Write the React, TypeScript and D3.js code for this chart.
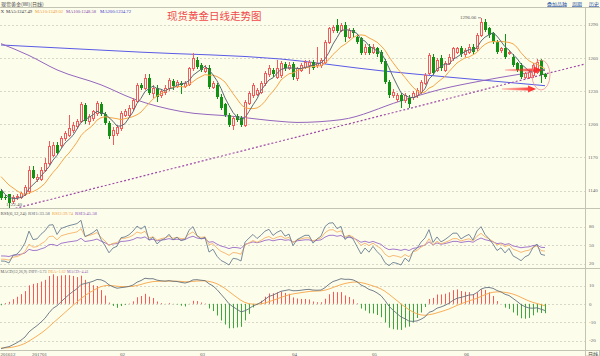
import React from 'react';
import * as d3 from 'd3';

// ---- Daily OHLC ----
const opens = [1139.4,1134,1136.4,1130.4,1133.7,1134,1136.4,1139.4,1158.9,1150.5,1150.8,1158.9,1164.9,1172.4,1181.4,1181.4,1187.4,1190.4,1194.9,1197.9,
1203,1217.4,1203,1205.4,1209.9,1218,1209,1200.9,1190.4,1191.9,1196.4,1208.4,1208.4,1214.4,1221,1235.4,1233,1242,1227.9,1233,
1226.4,1228.8,1232.4,1239,1234.8,1237.5,1234.8,1236,1250.4,1257.9,1253.4,1248,1251,1233.9,1235.4,1224.9,1218,1208.4,1199.4,1206.9,
1205.4,1199.4,1218.9,1226.4,1227,1229.4,1236.9,1245,1248.9,1242.9,1244.4,1254,1251,1254,1241.4,1248.9,1251.9,1253.4,1256.4,1253.4,
1253.4,1256.4,1274.4,1284.9,1290,1284.9,1289.4,1278.9,1284.9,1278.9,1277.4,1265.4,1269.9,1265.4,1268.4,1265.4,1257,1238.4,1226.4,1222.8,
1226.4,1221.9,1224,1224.9,1226.4,1229.4,1236.9,1245.9,1260.9,1248.9,1260,1248.9,1254.9,1259.4,1265.4,1268.4,1263,1265.4,1269.9,1268.4,
1280.4,1292.4,1286.4,1281.9,1274.4,1266.9,1268.4,1263.9,1260.9,1254.9,1253.4,1242.9,1242.9,1244.4,1247.4,1257.9,1245];
const highs = [1141,1136,1137,1136,1137,1139,1145,1162,1162,1155,1161,1169.4,1184.4,1184,1184,1189,1194,1207.8,1202,1205,
1220,1219,1209,1213,1221,1220,1211,1203,1197,1199,1212,1214,1217,1224,1237,1237,1245,1245,1235,1235,
1232,1235,1242,1241,1240,1239,1239,1252,1263.9,1261,1255,1253,1253,1239,1237,1227,1219,1210,1207,1209,
1207,1222,1230,1237,1233,1239,1248,1253,1251,1258,1257,1256,1256,1256,1252,1255,1258,1258,1258,1270,
1260,1276,1288,1290,1295.4,1291,1292,1287,1287,1281,1279,1272,1272,1272,1270,1267,1259,1240,1232,1228,
1228,1228,1226,1230,1233,1240,1246,1264,1263,1260,1262,1257,1263,1270,1270,1271,1269,1272,1272,1282,
1296.06,1295,1288,1283,1276,1270,1281,1267,1263,1256,1255,1247,1249,1255,1259,1259,1246];
const lows = [1131,1131,1122.4,1128,1131,1132,1135,1137,1150,1148,1149,1157,1163,1170,1172,1178,1185,1188,1192,1196,
1201,1200,1199,1203,1207,1207,1199,1186.8,1181.4,1189,1194,1206,1206,1212,1219,1231,1231,1226,1224,1220,
1224,1226,1230,1231,1233,1227,1233,1234,1248,1250,1247,1246,1232,1232,1223,1213,1206,1197,1194.9,1202,
1197,1197,1217,1224,1225,1227,1234,1243,1243,1241,1242,1248,1249,1240,1239,1247,1250,1245,1249,1251,
1251,1254,1272,1282,1282,1283,1274,1277,1279,1272,1262,1262,1262,1263,1261,1254,1236,1224,1224,1220,
1215,1219,1215,1222,1224,1227,1235,1244,1244,1247,1248,1247,1253,1257,1263,1261,1261,1263,1263,1266,
1279,1283,1278,1272,1263,1264,1259,1262,1252,1247,1241,1241,1241,1242,1245,1236.9,1241];
const closes = [1133.4,1133,1128.9,1134,1134.9,1137.9,1143,1158.9,1151.4,1152.3,1158.9,1164.9,1179.9,1181.4,1173.9,1187.4,1191.9,1196.4,1199.4,1203,
1218,1203,1206.9,1211.4,1218.9,1209,1200.9,1188.9,1194.9,1197,1209.9,1211.4,1215,1221.9,1235.4,1233,1242,1227.9,1233,1224.9,
1230,1233,1239.9,1234.8,1238.4,1235.4,1236.9,1250.4,1259.4,1251.9,1248.9,1251,1233.9,1236.9,1224.9,1214.4,1208.4,1199.4,1205.4,1203.9,
1199.4,1220.4,1227.9,1235.4,1230.9,1236.9,1245.9,1250.4,1245,1251,1254.9,1250.4,1253.4,1242.9,1250.4,1253.4,1256.4,1256.4,1251,1254.9,
1257.9,1274.4,1286.4,1287.9,1284,1289.4,1278.9,1284.9,1281.9,1274.4,1263.9,1269.9,1263.9,1269.9,1263,1256.4,1238.4,1226.4,1229.4,1226.4,
1221,1226.4,1218,1227.9,1230.9,1238.4,1244.4,1262.4,1245.9,1257.9,1250.4,1254.9,1260.9,1268.4,1268.4,1263,1266.9,1269.9,1265.4,1280.4,
1292.4,1284.9,1280.4,1274.4,1265.4,1268.4,1260.9,1265.4,1253.4,1248.9,1242.9,1245.9,1247.4,1253.4,1256.4,1244.4,1242.9];
// closes preceding the visible window (for the MA5 / MA10 warm-up)
const preCloses = [1172,1166,1160,1161,1159,1158,1142,1139,1135];

// long moving averages (candle index -> value)
const ma100Idx = [0,7,14,25,33,45,58,70,74,85,100,110,120,136];
const ma100Val = [1272.7,1262,1249,1235.5,1223,1211.4,1207,1202.4,1201.5,1204,1221,1231.5,1239,1248.58];
const ma200Idx = [0,35,70,95,113,136];
const ma200Val = [1271.5,1265,1258.8,1248.2,1242.1,1234.72];

const rsiPeriods = [6,12,24];
const rsiInitUp = [2.0,2.2,2.6];
const rsiInitAbs = [8,8,8];
const macdInit = [1150,1175,-24]; // ema12, ema26, dea

// trend line anchors (index, price)
const trendIdx = [2,146.5];
const trendVal = [1122.4,1254.8];

const priceTicks = [1290,1260,1230,1200,1170,1140];
const rsiTicks = [80,50,20];
const macdTicks = [10,0,-10,-20];
const monthLabels = ['201612','201701','02','03','04','05','06'];
const monthIdx = [0,8,30,50,73,93,116];

const maLegendText = ['MA5:1247.49','MA10:1249.02','MA100:1248.58','MA200:1234.72'];
const rsiLegendText = ['RSI(6,12,24)','RSI1:33.58','RSI2:39.74','RSI3:45.58'];
const macdLegendText = ['MACD(12,26,9)','DIFF:-3.73','DEA:-1.62','MACD:-4.41'];

const BG = '#fdfdec';
const UP = '#f25c5c';
const DOWN = '#129212';
const BAR_UP = '#ff5555';
const BAR_DOWN = '#3aa83a';
const C_MA5 = '#5d6b78';
const C_MA10 = '#f7a648';
const C_MA100 = '#9466bd';
const C_MA200 = '#5a5ae6';
const GRID = '#d8d8c8';
const AXIS = '#c4c4b4';
const FONT = "'Liberation Serif', 'DejaVu Serif', serif";
const CJK = "'Noto Sans CJK SC', sans-serif";

function movingAvg(k: number): (number | null)[] {
  const all = preCloses.concat(closes);
  const off = preCloses.length;
  return closes.map((_, i) => {
    const end = i + off;
    if (end - k + 1 < 0) return null;
    return d3.mean(all.slice(end - k + 1, end + 1)) as number;
  });
}

function rsiSeries(pi: number): number[] {
  const n = rsiPeriods[pi];
  let up = rsiInitUp[pi];
  let ab = rsiInitAbs[pi];
  let prev = preCloses[preCloses.length - 1];
  return closes.map((c) => {
    const d = c - prev;
    prev = c;
    up = (Math.max(d, 0) + (n - 1) * up) / n;
    ab = (Math.abs(d) + (n - 1) * ab) / n;
    return ab === 0 ? 50 : (up / ab) * 100;
  });
}

function macdSeries() {
  let e12 = macdInit[0];
  let e26 = macdInit[1];
  let dea = macdInit[2];
  const diff: number[] = [];
  const deaArr: number[] = [];
  const bar: number[] = [];
  closes.forEach((c) => {
    e12 = (2 * c + 11 * e12) / 13;
    e26 = (2 * c + 25 * e26) / 27;
    const df = e12 - e26;
    dea = (2 * df + 8 * dea) / 10;
    diff.push(df);
    deaArr.push(dea);
    bar.push(2 * (df - dea));
  });
  return { diff, dea: deaArr, bar };
}

function arrowPath(x0: number, x1: number, y: number) {
  const p = d3.path();
  p.moveTo(x0, y - 0.8);
  p.lineTo(x1 - 8, y - 1.6);
  p.lineTo(x1 - 8, y - 3.6);
  p.lineTo(x1, y);
  p.lineTo(x1 - 8, y + 3.6);
  p.lineTo(x1 - 8, y + 1.6);
  p.lineTo(x0, y + 0.8);
  p.closePath();
  return p.toString();
}

export default function App() {
  const W = 600;
  const H = 356;
  const n = closes.length;
  const axisX = 585;

  const x = d3.scaleLinear().domain([0, n - 1]).range([1, 545]);
  const yP = d3.scaleLinear().domain([1140, 1290]).range([190.5, 24.5]);
  const yR = d3.scaleLinear().domain([20, 80]).range([263.5, 226.5]);
  const yM = d3.scaleLinear().domain([-20, 10]).range([340.5, 285.5]);

  const ma5 = movingAvg(5);
  const ma10 = movingAvg(10);
  const lineP = d3
    .line<number | null>()
    .defined((d) => d !== null)
    .x((_, i) => x(i))
    .y((d) => yP(d as number));

  const ma100Line = d3
    .line<number>()
    .x((_, i) => x(ma100Idx[i]))
    .y((d) => yP(d))
    .curve(d3.curveMonotoneX)(ma100Val);
  const ma200Line = d3
    .line<number>()
    .x((_, i) => x(ma200Idx[i]))
    .y((d) => yP(d))
    .curve(d3.curveMonotoneX)(ma200Val);

  const slope = (trendVal[1] - trendVal[0]) / (trendIdx[1] - trendIdx[0]);
  const iStart = x.invert(0);
  const iEnd = x.invert(axisX + 2);
  const tY0 = yP(trendVal[0] + slope * (iStart - trendIdx[0]));
  const tY1 = yP(trendVal[0] + slope * (iEnd - trendIdx[0]));

  const rsis = [0, 1, 2].map(rsiSeries);
  const rsiColors = ['#6a7f92', '#f7b266', '#9a6ac8'];
  const lineR = d3.line<number>().x((_, i) => x(i)).y((d) => yR(d));

  const macd = macdSeries();
  const lineM = d3.line<number>().x((_, i) => x(i)).y((d) => yM(d));

  // histogram as one path per colour
  const y0 = yM(0);
  const upPath = d3.path();
  const dnPath = d3.path();
  macd.bar.forEach((v, i) => {
    const cx = Math.round(x(i)) + 0.5;
    const p = v >= 0 ? upPath : dnPath;
    p.moveTo(cx, y0);
    p.lineTo(cx, yM(v));
  });

  const lowIdx = d3.minIndex(lows);
  const highIdx = d3.maxIndex(highs);

  const fs = 5;

  return (
    <svg
      width={W}
      height={H}
      viewBox={`0 0 ${W} ${H}`}
      style={{ position: 'absolute', left: 0, top: 0, background: BG }}
      fontFamily={FONT}
    >
      <defs>
        <clipPath id="cMain"><rect x={0} y={8} width={axisX} height={200} /></clipPath>
        <clipPath id="cRsi"><rect x={0} y={209} width={axisX} height={59} /></clipPath>
        <clipPath id="cMacd"><rect x={0} y={269} width={axisX} height={81} /></clipPath>
        <linearGradient id="arrG" x1="0" x2="1" y1="0" y2="0">
          <stop offset="0" stopColor="#ff3030" stopOpacity={0.25} />
          <stop offset="1" stopColor="#ff2020" stopOpacity={1} />
        </linearGradient>
      </defs>
      <rect x={0} y={0} width={W} height={H} fill={BG} />

      {/* top bar */}
      <text x={1} y={5.5} fontSize={fs} fill="#444" fontFamily={CJK}>现货黄金(WI)(日线)</text>
      {['叠加品种', '周期', '历史'].map((t, k) => (
        <text key={t} x={[547, 572, 589][k]} y={5.5} fontSize={fs} fill="#2a55a8" fontFamily={CJK} textDecoration="underline">{t}</text>
      ))}
      <line x1={0} x2={W} y1={7.5} y2={7.5} stroke={AXIS} strokeWidth={1} />

      {/* panel separators and right axis */}
      <line x1={0} x2={W} y1={208.5} y2={208.5} stroke={AXIS} />
      <line x1={0} x2={W} y1={268.5} y2={268.5} stroke={AXIS} />
      <line x1={0} x2={W} y1={350.5} y2={350.5} stroke={AXIS} />
      <line x1={axisX + 0.5} x2={axisX + 0.5} y1={7.5} y2={H} stroke={AXIS} />

      {/* grid lines + axis labels */}
      {priceTicks.map((t) => (
        <g key={'p' + t}>
          <line x1={0} x2={axisX} y1={Math.round(yP(t)) + 0.5} y2={Math.round(yP(t)) + 0.5} stroke={GRID} strokeDasharray="2,2" />
          <text x={588} y={yP(t) + 1.8} fontSize={fs} fill="#666">{t}</text>
        </g>
      ))}
      {rsiTicks.map((t) => (
        <g key={'r' + t}>
          <line x1={0} x2={axisX} y1={Math.round(yR(t)) + 0.5} y2={Math.round(yR(t)) + 0.5} stroke={GRID} strokeDasharray="2,2" />
          <text x={589} y={yR(t) + 1.8} fontSize={fs} fill="#666">{t}</text>
        </g>
      ))}
      {macdTicks.map((t) => (
        <g key={'m' + t}>
          <line x1={0} x2={axisX} y1={Math.round(yM(t)) + 0.5} y2={Math.round(yM(t)) + 0.5} stroke={GRID} strokeDasharray="2,2" />
          <text x={589} y={yM(t) + 1.8} fontSize={fs} fill="#666">{t}</text>
        </g>
      ))}

      {/* main price panel */}
      <g clipPath="url(#cMain)">
        <path d={ma200Line || ''} fill="none" stroke={C_MA200} strokeWidth={1} />
        <path d={ma100Line || ''} fill="none" stroke={C_MA100} strokeWidth={1} />
        <line x1={0} y1={tY0} x2={axisX + 2} y2={tY1} stroke="#a04aa8" strokeWidth={1.2} strokeDasharray="2,2" />
        <g shapeRendering="crispEdges">
          {closes.map((c, i) => {
            const o = opens[i];
            const cx = Math.round(x(i));
            const up = c >= o;
            const col = up ? UP : DOWN;
            const top = Math.round(yP(Math.max(o, c)));
            const bot = Math.round(yP(Math.min(o, c)));
            return (
              <g key={i}>
                <line x1={cx + 0.5} x2={cx + 0.5} y1={yP(highs[i])} y2={yP(lows[i])} stroke={col} strokeWidth={1} />
                {up ? (
                  <rect x={cx - 0.5} y={top + 0.5} width={2} height={Math.max(bot - top, 1)} fill={BG} stroke={col} strokeWidth={1} />
                ) : (
                  <rect x={cx - 1} y={top} width={3} height={Math.max(bot - top, 1)} fill={col} />
                )}
              </g>
            );
          })}
        </g>
        <path d={lineP(ma10) || ''} fill="none" stroke={C_MA10} strokeWidth={1} />
        <path d={lineP(ma5) || ''} fill="none" stroke={C_MA5} strokeWidth={1} />
      </g>

      {/* annotations */}
      <path d={arrowPath(505, 542, 70)} fill="url(#arrG)" />
      <path d={arrowPath(502, 536, 89)} fill="url(#arrG)" />
      <ellipse cx={541} cy={75} rx={9} ry={15} fill="none" stroke="#f29090" strokeWidth={0.8} />
      <text x={x(highIdx) - 21} y={yP(highs[highIdx]) + 1.5} fontSize={fs} fill="#555">{highs[highIdx].toFixed(2)}</text>
      <line x1={x(highIdx) - 3} x2={x(highIdx)} y1={yP(highs[highIdx])} y2={yP(highs[highIdx])} stroke="#555" strokeWidth={0.6} />
      <text x={x(lowIdx) - 3} y={206} fontSize={fs} fill="#555">{lows[lowIdx].toFixed(2)}</text>

      {/* legends */}
      <text x={0.5} y={13} fontSize={fs} fill="#444">X</text>
      {maLegendText.map((t, k) => (
        <text key={t} x={[6, 35, 66, 100][k]} y={13} fontSize={fs} textLength={[26, 28, 30, 31][k]} lengthAdjust="spacingAndGlyphs" fill={['#333', '#f09a30', '#7d4aa8', '#3a3ad0'][k]}>{t}</text>
      ))}
      <text x={167} y={19.5} fontSize={10.5} fill="#f04a4a" fontFamily={CJK}>现货黄金日线走势图</text>

      {/* RSI panel */}
      {rsiLegendText.map((t, k) => (
        <text key={t} x={[0.5, 28, 52, 75][k]} y={215} fontSize={fs} textLength={[26, 22, 21, 22][k]} lengthAdjust="spacingAndGlyphs" fill={['#555', '#5d6b78', '#f0a040', '#8a55b8'][k]}>{t}</text>
      ))}
      <g clipPath="url(#cRsi)">
        {[2, 1, 0].map((k) => (
          <path key={k} d={lineR(rsis[k]) || ''} fill="none" stroke={rsiColors[k]} strokeWidth={0.9} />
        ))}
      </g>

      {/* MACD panel */}
      {macdLegendText.map((t, k) => (
        <text key={t} x={[0.5, 28.5, 48, 67][k]} y={273} fontSize={4} fill={['#555', '#5d6b78', '#f0a040', '#9060b0'][k]}>{t}</text>
      ))}
      <g clipPath="url(#cMacd)">
        <path d={upPath.toString()} fill="none" stroke={BAR_UP} strokeWidth={1} />
        <path d={dnPath.toString()} fill="none" stroke={BAR_DOWN} strokeWidth={1} />
        <path d={lineM(macd.dea) || ''} fill="none" stroke="#f7a648" strokeWidth={0.9} />
        <path d={lineM(macd.diff) || ''} fill="none" stroke="#64727e" strokeWidth={0.9} />
      </g>

      {/* date axis */}
      {monthLabels.map((t, k) => (
        <text key={t} x={Math.max(0.5, x(monthIdx[k]) - 1)} y={355.5} fontSize={fs} fill="#555">{t}</text>
      ))}
      <rect x={axisX + 0.5} y={350.5} width={14} height={5.5} fill="none" stroke={AXIS} />
      <text x={588} y={355.5} fontSize={fs} fill="#444" fontFamily={CJK}>日线</text>
    </svg>
  );
}
